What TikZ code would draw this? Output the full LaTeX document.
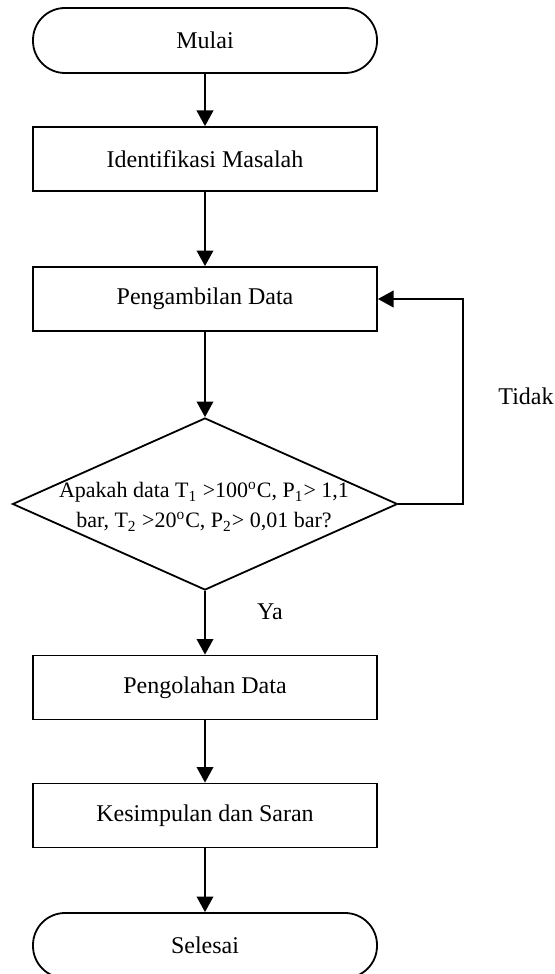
\documentclass[tikz,border=0pt]{standalone}
\usepackage{fontspec}
\setmainfont{Liberation Serif}
\usetikzlibrary{shapes.geometric,arrows.meta}

\begin{document}
\begin{tikzpicture}[x=0.5pt, y=-0.5pt, line width=0.9pt,
  every node/.style={font=\fontsize{12}{15}\selectfont},
  terminal/.style={draw, rectangle, rounded corners=16pt, minimum width=172pt, minimum height=32.5pt, inner sep=0pt},
  proses/.style={draw, rectangle, minimum width=172pt, minimum height=32pt, inner sep=0pt},
  keputusan/.style={draw, diamond, minimum width=192.5pt, minimum height=86pt, inner sep=0pt},
  panah/.style={-{Triangle[length=7.8pt, width=8.3pt]}}]

\useasboundingbox (0,0) rectangle (555,974);

% Define the coordinates for the steps of the flow
\coordinate (p0) at (205,40.5);
\coordinate (p1) at (205,159);
\coordinate (p2) at (205,299);
\coordinate (p3) at (205,504);
\coordinate (p4) at (205,687.5);
\coordinate (p5) at (205,815.5);
\coordinate (p6) at (205,945.5);
\coordinate (belok) at (463,504);

% Place the boxes
\node[terminal] (mulai) at (p0) {Mulai};
\node[proses] (identifikasi) at (p1) {Identifikasi Masalah};
\node[proses] (ambil) at (p2) {Pengambilan Data};
\node[keputusan] (cek) at (p3) {};
\node[align=center, inner sep=0pt, font=\fontsize{11}{15}\selectfont] (cektxt) at (204,507) {Apakah data T\textsubscript{1} >100\textsuperscript{o}C, P\textsubscript{1}> 1,1\\bar, T\textsubscript{2} >20\textsuperscript{o}C, P\textsubscript{2}> 0,01 bar?};
\node[proses] (olah) at (p4) {Pengolahan Data};
\node[proses] (simpul) at (p5) {Kesimpulan dan Saran};
\node[terminal] (selesai) at (p6) {Selesai};

% Draw the arrows between the boxes
\draw[panah] (mulai) -- (identifikasi);
\draw[panah] (identifikasi) -- (ambil);
\draw[panah] (ambil) -- (cek.north);
\draw[panah] (cek.south) -- (olah);
\draw[panah] (olah) -- (simpul);
\draw[panah] (simpul) -- (selesai);
\draw[panah] (cek.east) -- (belok) |- (ambil.east);

% Labels of the branches
\node (ya) at (270,612) {Ya};
\node (tidak) at (526,396) {Tidak};

\end{tikzpicture}
\end{document}
